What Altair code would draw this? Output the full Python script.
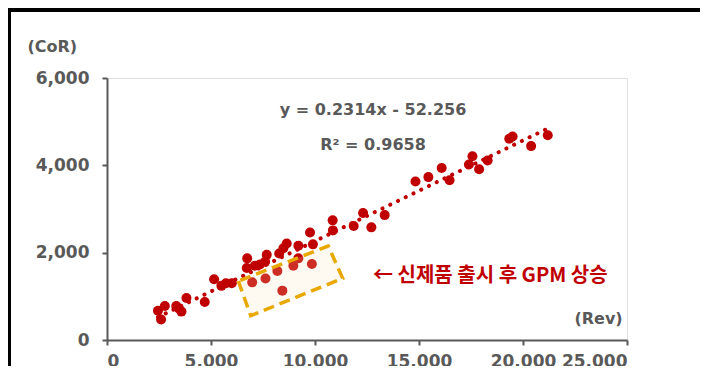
import altair as alt
import pandas as pd

# scatter data: revenue (x) vs cost of revenue (y)
rev = [2450, 2600, 2780, 3330, 3450, 3580, 3820, 4700, 5150, 5500, 5720, 6000,
       6740, 6720, 7110, 7350, 7600, 7680, 8280, 8480, 8640, 9200, 9760, 9900,
       10850, 10860, 11860, 12310, 12710, 13350, 14830, 15450, 16090, 16470,
       17400, 17570, 17890, 18300, 19340, 19500, 20390, 21190,
       6980, 7620, 8190, 8430, 8960, 9850, 9200]
cor = [670, 470, 780, 780, 720, 650, 960, 870, 1390, 1240, 1300, 1300,
       1870, 1650, 1700, 1730, 1790, 1950, 1980, 2100, 2210, 2160, 2460, 2190,
       2740, 2510, 2610, 2910, 2580, 2860, 3630, 3730, 3940, 3660,
       4020, 4210, 3910, 4110, 4610, 4660, 4440, 4690,
       1320, 1410, 1580, 1130, 1700, 1740, 1870]

# highlight box corners (data units)
box_x = [6313, 6909, 11332, 10639, 6313]
box_y = [1351, 556, 1413, 2152, 1351]

x_ticks = [0, 5000, 10000, 15000, 20000, 25000]
y_ticks = [0, 2000, 4000, 6000]

eq_text = "y = 0.2314x - 52.256"
r2_text = "R² = 0.9658"
note_text = "← 신제품 출시 후 GPM 상승"

RED = "#C00000"
GRAY = "#595959"
FONT = "DejaVu Sans"

df = pd.DataFrame({"rev": rev, "cor": cor})
box = pd.DataFrame({"bx": box_x, "by": box_y, "o": list(range(len(box_x)))})

xs = alt.Scale(domain=[0, 25000], nice=False)
ys = alt.Scale(domain=[0, 6000], nice=False)

xax = alt.Axis(values=x_ticks, format=",.0f", title="(Rev)", titleAngle=0,
               titleX=491, titleY=-22, titleAlign="center", titleBaseline="middle",
               titleFont=FONT, titleFontSize=16, titleFontWeight="bold", titleColor=GRAY,
               labelFont=FONT, labelFontSize=17, labelFontWeight="bold", labelColor=GRAY,
               labelPadding=8,
               domainColor=GRAY, domainWidth=2, tickColor=GRAY, tickWidth=2, tickSize=5,
               grid=False)
yax = alt.Axis(values=y_ticks, format=",.0f", title="(CoR)", titleAngle=0,
               titleX=-80, titleY=-32, titleAlign="left", titleBaseline="middle",
               titleFont=FONT, titleFontSize=16, titleFontWeight="bold", titleColor=GRAY,
               labelFont=FONT, labelFontSize=17, labelFontWeight="bold", labelColor=GRAY,
               labelPadding=13,
               domainColor=GRAY, domainWidth=2, tickColor=GRAY, tickWidth=2, tickSize=5,
               grid=False)

points = alt.Chart(df).mark_circle(size=100, color=RED, opacity=1).encode(
    x=alt.X("rev:Q", scale=xs, axis=xax),
    y=alt.Y("cor:Q", scale=ys, axis=yax),
)

trend = alt.Chart(df).transform_regression("rev", "cor").mark_line(
    color=RED, strokeWidth=4, strokeDash=[0.1, 8.5], strokeCap="round"
).encode(x=alt.X("rev:Q", scale=xs), y=alt.Y("cor:Q", scale=ys))

boxc = alt.Chart(box).mark_line(
    fill="#FFE6B9", fillOpacity=0.2, stroke="#E8A800", strokeWidth=3.5,
    strokeDash=[11, 6], strokeJoin="miter"
).encode(x=alt.X("bx:Q", scale=xs), y=alt.Y("by:Q", scale=ys), order="o:O")

texts = pd.DataFrame({
    "tx": [12790, 12790, 12790],
    "ty": [5267, 4465, 1466],
    "t": [eq_text, r2_text, note_text],
})
eq = alt.Chart(texts.iloc[:2]).mark_text(
    font=FONT, fontSize=16, fontWeight="bold", color=GRAY, align="center", baseline="middle"
).encode(x=alt.X("tx:Q", scale=xs), y=alt.Y("ty:Q", scale=ys), text="t:N")
note = alt.Chart(texts.iloc[2:]).mark_text(
    font="Noto Sans CJK KR", fontSize=20, fontWeight="bold", color=RED,
    align="left", baseline="middle"
).encode(x=alt.X("tx:Q", scale=xs), y=alt.Y("ty:Q", scale=ys), text="t:N")

frame_h = alt.Chart(df).mark_rule(color="black", strokeWidth=3).encode(
    x=alt.value(-99), x2=alt.value(593), y=alt.value(-68))
frame_v = alt.Chart(df).mark_rule(color="black", strokeWidth=3).encode(
    x=alt.value(-98), y=alt.value(-70), y2=alt.value(300))

chart = alt.layer(frame_h, frame_v, points, trend, boxc, eq, note).properties(
    width=520, height=262,
    autosize=alt.AutoSizeParams(type="none"),
    padding={"left": 99, "top": 70, "right": 73, "bottom": 26},
).configure_view(stroke=None).configure(background="white")

chart.save("out.html", embed_options={"renderer": "svg", "actions": False})
